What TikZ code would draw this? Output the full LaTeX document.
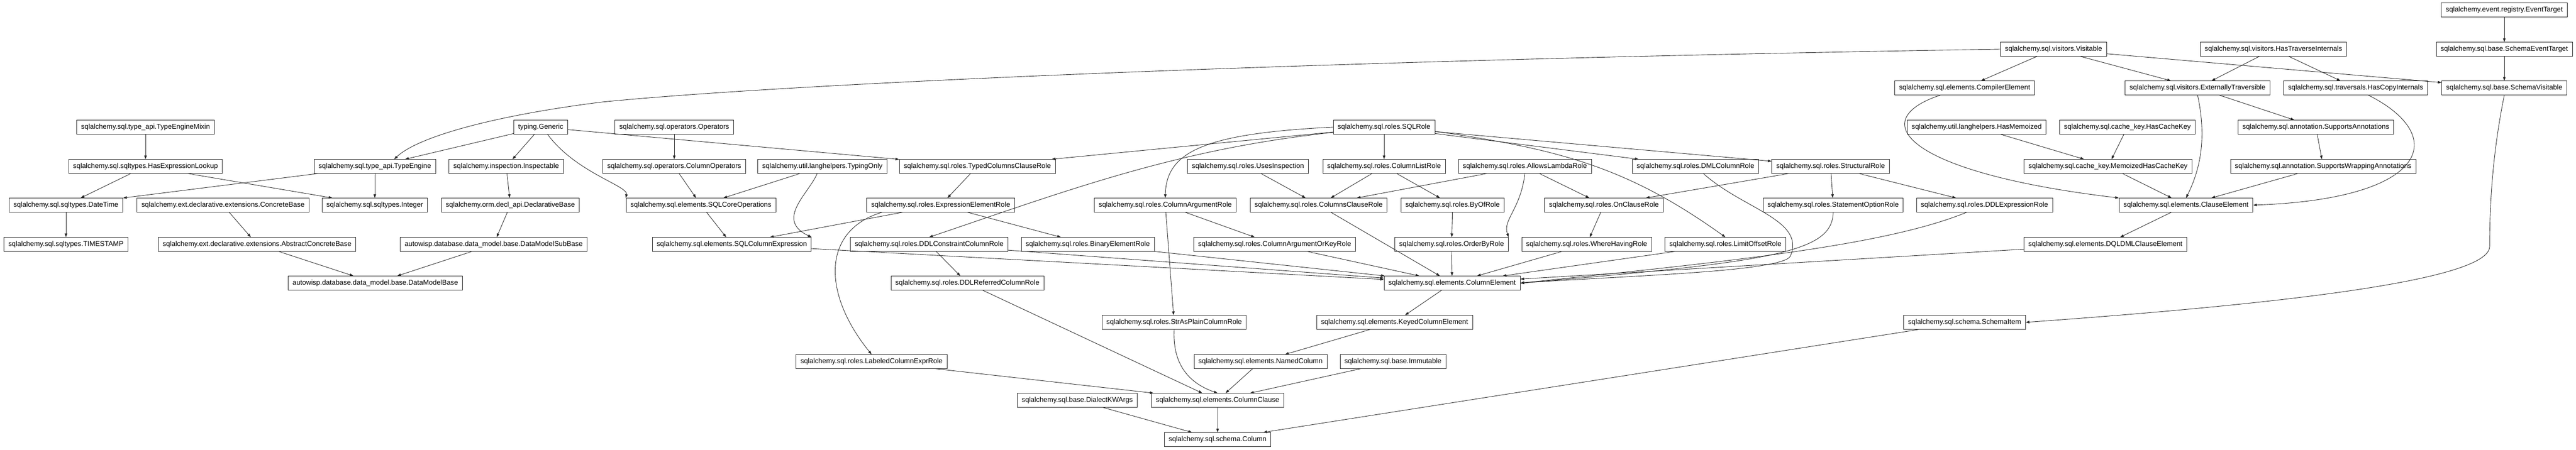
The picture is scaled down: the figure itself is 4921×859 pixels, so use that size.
\documentclass[tikz,border=0pt]{standalone}
\usepackage{fontspec}
\setmainfont{Liberation Sans}
\usepackage{tikz}
\usetikzlibrary{arrows.meta}
\tikzset{
    classnode/.style={draw=black!85, line width=0.5pt, fill=white, minimum height=0.53cm,
        inner xsep=4.8pt, inner ysep=0pt, font=\fontsize{7.6pt}{9pt}\selectfont},
    inherit/.style={draw=black!85, line width=0.5pt, -{Triangle[length=4pt,width=2.8pt]}},
}

\begin{document}
\begin{tikzpicture}[x=0.02cm, y=-0.02cm]
\useasboundingbox[fill=white] (0,0) rectangle (4921,859);
\node[classnode] (evt) at (4784,19) {sqlalchemy.event.registry.EventTarget};
\node[classnode] (vis) at (3923,94) {sqlalchemy.sql.visitors.Visitable};
\node[classnode] (htr) at (4343,94) {sqlalchemy.sql.visitors.HasTraverseInternals};
\node[classnode] (set) at (4784,94) {sqlalchemy.sql.base.SchemaEventTarget};
\node[classnode] (comp) at (3753,168) {sqlalchemy.sql.elements.CompilerElement};
\node[classnode] (ext) at (4198,168) {sqlalchemy.sql.visitors.ExternallyTraversible};
\node[classnode] (hci) at (4500,168) {sqlalchemy.sql.traversals.HasCopyInternals};
\node[classnode] (svis) at (4784,168) {sqlalchemy.sql.base.SchemaVisitable};
\node[classnode] (temix) at (278,243) {sqlalchemy.sql.type\_api.TypeEngineMixin};
\node[classnode] (gen) at (1033,243) {typing.Generic};
\node[classnode] (ops) at (1288,243) {sqlalchemy.sql.operators.Operators};
\node[classnode] (sqlrole) at (2644,243) {sqlalchemy.sql.roles.SQLRole};
\node[classnode] (hmem) at (3776,243) {sqlalchemy.util.langhelpers.HasMemoized};
\node[classnode] (hck) at (4064,243) {sqlalchemy.sql.cache\_key.HasCacheKey};
\node[classnode] (sann) at (4424,243) {sqlalchemy.sql.annotation.SupportsAnnotations};
\node[classnode] (hel) at (278,318) {sqlalchemy.sql.sqltypes.HasExpressionLookup};
\node[classnode] (te) at (716,318) {sqlalchemy.sql.type\_api.TypeEngine};
\node[classnode] (insp) at (967,318) {sqlalchemy.inspection.Inspectable};
\node[classnode] (colops) at (1288,318) {sqlalchemy.sql.operators.ColumnOperators};
\node[classnode] (typonly) at (1571,318) {sqlalchemy.util.langhelpers.TypingOnly};
\node[classnode] (tccr) at (1867,318) {sqlalchemy.sql.roles.TypedColumnsClauseRole};
\node[classnode] (usesinsp) at (2384,318) {sqlalchemy.sql.roles.UsesInspection};
\node[classnode] (clr) at (2644,318) {sqlalchemy.sql.roles.ColumnListRole};
\node[classnode] (alr) at (2913,318) {sqlalchemy.sql.roles.AllowsLambdaRole};
\node[classnode] (dmlcr) at (3239,318) {sqlalchemy.sql.roles.DMLColumnRole};
\node[classnode] (struct) at (3497,318) {sqlalchemy.sql.roles.StructuralRole};
\node[classnode] (mhck) at (4027,318) {sqlalchemy.sql.cache\_key.MemoizedHasCacheKey};
\node[classnode] (swa) at (4438,318) {sqlalchemy.sql.annotation.SupportsWrappingAnnotations};
\node[classnode] (dt) at (126,392) {sqlalchemy.sql.sqltypes.DateTime};
\node[classnode] (cb) at (426,392) {sqlalchemy.ext.declarative.extensions.ConcreteBase};
\node[classnode] (int) at (716,392) {sqlalchemy.sql.sqltypes.Integer};
\node[classnode] (decl) at (975,392) {sqlalchemy.orm.decl\_api.DeclarativeBase};
\node[classnode] (sco) at (1339,392) {sqlalchemy.sql.elements.SQLCoreOperations};
\node[classnode] (eer) at (1797,392) {sqlalchemy.sql.roles.ExpressionElementRole};
\node[classnode] (car) at (2226,392) {sqlalchemy.sql.roles.ColumnArgumentRole};
\node[classnode] (ccr) at (2519,392) {sqlalchemy.sql.roles.ColumnsClauseRole};
\node[classnode] (byof) at (2775,392) {sqlalchemy.sql.roles.ByOfRole};
\node[classnode] (onc) at (3064,392) {sqlalchemy.sql.roles.OnClauseRole};
\node[classnode] (sor) at (3502,392) {sqlalchemy.sql.roles.StatementOptionRole};
\node[classnode] (ddlexp) at (3791,392) {sqlalchemy.sql.roles.DDLExpressionRole};
\node[classnode] (ce) at (4176,392) {sqlalchemy.sql.elements.ClauseElement};
\node[classnode] (ts) at (126,467) {sqlalchemy.sql.sqltypes.TIMESTAMP};
\node[classnode] (acb) at (491,467) {sqlalchemy.ext.declarative.extensions.AbstractConcreteBase};
\node[classnode] (dmsb) at (943,467) {autowisp.database.data\_model.base.DataModelSubBase};
\node[classnode] (sce) at (1398,467) {sqlalchemy.sql.elements.SQLColumnExpression};
\node[classnode] (ddlc) at (1775,467) {sqlalchemy.sql.roles.DDLConstraintColumnRole};
\node[classnode] (ber) at (2078,467) {sqlalchemy.sql.roles.BinaryElementRole};
\node[classnode] (cakr) at (2435,467) {sqlalchemy.sql.roles.ColumnArgumentOrKeyRole};
\node[classnode] (obr) at (2773,467) {sqlalchemy.sql.roles.OrderByRole};
\node[classnode] (whr) at (3031,467) {sqlalchemy.sql.roles.WhereHavingRole};
\node[classnode] (lor) at (3296,467) {sqlalchemy.sql.roles.LimitOffsetRole};
\node[classnode] (dql) at (4022,467) {sqlalchemy.sql.elements.DQLDMLClauseElement};
\node[classnode] (dmb) at (717,541) {autowisp.database.data\_model.base.DataModelBase};
\node[classnode] (ddlr) at (1848,541) {sqlalchemy.sql.roles.DDLReferredColumnRole};
\node[classnode] (colel) at (2774,541) {sqlalchemy.sql.elements.ColumnElement};
\node[classnode] (spcr) at (2243,616) {sqlalchemy.sql.roles.StrAsPlainColumnRole};
\node[classnode] (kce) at (2664,616) {sqlalchemy.sql.elements.KeyedColumnElement};
\node[classnode] (si) at (3753,616) {sqlalchemy.sql.schema.SchemaItem};
\node[classnode] (lcer) at (1665,691) {sqlalchemy.sql.roles.LabeledColumnExprRole};
\node[classnode] (nc) at (2408,691) {sqlalchemy.sql.elements.NamedColumn};
\node[classnode] (imm) at (2661,691) {sqlalchemy.sql.base.Immutable};
\node[classnode] (dkw) at (2058,765) {sqlalchemy.sql.base.DialectKWArgs};
\node[classnode] (cc) at (2326,765) {sqlalchemy.sql.elements.ColumnClause};
\node[classnode] (col) at (2326,840) {sqlalchemy.sql.schema.Column};
\foreach \a/\b in {temix/hel, hel/dt, hel/int, te/dt, te/int, dt/ts, gen/te, gen/insp, gen/tccr,
    insp/decl, decl/dmsb, cb/acb, acb/dmb, dmsb/dmb, ops/colops, colops/sco, typonly/sco,
    sco/sce, tccr/eer, eer/sce, eer/ber, sqlrole/tccr, sqlrole/clr, sqlrole/dmlcr, sqlrole/struct,
    ddlc/ddlr, car/cakr, car/spcr, usesinsp/ccr, clr/ccr, clr/byof, alr/ccr, alr/onc,
    struct/onc, struct/sor, struct/ddlexp, byof/obr, onc/whr, sce/colel, ddlc/colel, ber/colel,
    cakr/colel, ccr/colel, obr/colel, whr/colel, lor/colel, dql/colel, colel/kce, kce/nc, ddlr/cc,
    lcer/cc, nc/cc, imm/cc, cc/col, dkw/col, si/col, vis/comp, vis/ext, vis/svis, htr/ext,
    htr/hci, evt/set, set/svis, hmem/mhck, hck/mhck, mhck/ce, ext/sann, sann/swa, swa/ce,
    ce/dql} {
\draw[inherit] (\a) -- (\b);
}
\draw[inherit] (vis.west) .. controls (2500,115) and (1500,160) .. (1150,195)
    .. controls (950,220) and (800,260) .. ([xshift=0.74cm]te.north);
\draw[inherit] (gen.south) ++(13,0) .. controls (1100,330) and (1200,355) .. (sco.north west);
\draw[inherit] (typonly.south) ++(-10,0) .. controls (1545,370) and (1480,420) .. (sce.north east);
\draw[inherit] (eer.south) ++(-112,0) .. controls (1570,440) and (1570,560) .. (lcer.north);
\draw[inherit] (sqlrole.west) ++(0,10) .. controls (2250,285) and (2050,360) .. (ddlc.north);
\draw[inherit] (sqlrole.west) .. controls (2300,255) and (2228,290) .. (car.north);
\draw[inherit] (sqlrole.east) ++(0,8) .. controls (2980,285) and (3110,320) .. (lor.north);
\draw[inherit] (alr.south) .. controls (2905,400) and (2870,420) .. (obr.north east);
\draw[inherit] (dmlcr.south) ++(15,0) .. controls (3330,400) and (3450,420) .. (3420,490)
    .. controls (3400,520) and (3100,527) .. (colel.east);
\draw[inherit] (sor.south) .. controls (3500,480) and (3400,500) .. (colel.east);
\draw[inherit] (ddlexp.south) ++(-34,0) .. controls (3600,470) and (3300,500) .. (colel.east);
\draw[inherit] (spcr.south) .. controls (2240,690) and (2265,730) .. (cc.north);
\draw[inherit] (comp.south) ++(-46,0) .. controls (3560,230) and (3640,330) .. (ce.north west);
\draw[inherit] (ext.south) .. controls (4215,260) and (4205,320) .. (ce.north);
\draw[inherit] (hci.south) ++(24,0) .. controls (4680,260) and (4640,380) .. (ce.east);
\draw[inherit] (svis.south) .. controls (4760,300) and (4756,400) .. (4756,471)
    .. controls (4756,540) and (4300,585) .. (si.east);
\end{tikzpicture}
\end{document}
